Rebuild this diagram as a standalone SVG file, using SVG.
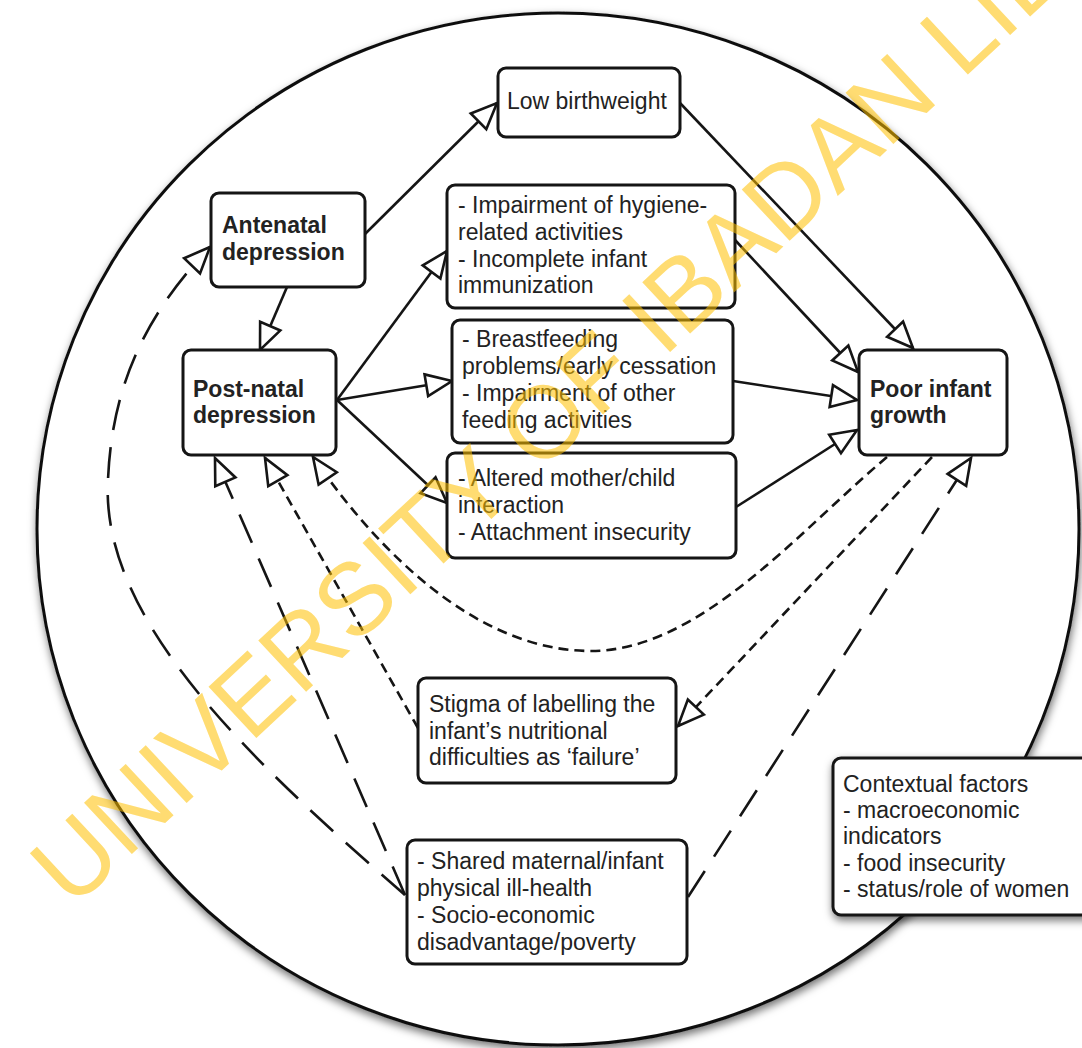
<svg xmlns="http://www.w3.org/2000/svg" width="1082" height="1048" viewBox="0 0 1082 1048">
<style>
.box{fill:#fff;stroke:#151515;stroke-width:3}
.t{font-family:"Liberation Sans",Arial,sans-serif;font-size:23px;fill:#222}
.b{font-weight:bold}
.ln{fill:none;stroke:#151515;stroke-width:2.6}
.sd{stroke-dasharray:10,6}
.ld{stroke-dasharray:31,17}
.arr{marker-end:url(#tri)}
.wm{font-family:"Liberation Sans",Arial,sans-serif;font-size:102px;fill:#FFC000;opacity:0.55}
</style>
<defs>
<marker id="tri" viewBox="-3 -3 32 28" refX="26" refY="11" markerWidth="32" markerHeight="28" markerUnits="userSpaceOnUse" orient="auto">
<path d="M0,0 L26,11 L0,22 Z" fill="#fff" stroke="#151515" stroke-width="2.6" stroke-dasharray="none"/>
</marker>
<filter id="sh" x="-10%" y="-10%" width="120%" height="120%">
<feDropShadow dx="1" dy="4" stdDeviation="4" flood-color="#000" flood-opacity="0.55"/>
</filter>
</defs>
<rect width="1082" height="1048" fill="#fff"/>
<ellipse id="outer" cx="558" cy="529" rx="521" ry="516" fill="#fff" stroke="#111" stroke-width="3" filter="url(#sh)"/>

<g id="connectors">
<path class="ln arr" d="M365,234 L497,103"/>
<path class="ln arr" d="M287,287 L260,350"/>
<path class="ln arr" d="M337,400 L447,251"/>
<path class="ln arr" d="M337,400 L452,381"/>
<path class="ln arr" d="M337,400 L447,503"/>
<path class="ln arr" d="M680,103 L913,348"/>
<path class="ln arr" d="M735,240 L858,372"/>
<path class="ln arr" d="M733,381 L857,400"/>
<path class="ln arr" d="M736,507 L857,430"/>
<path class="ln sd arr" d="M887,457 C800,530 700,651 591,651 C470,651 370,540 313,457"/>
<path class="ln sd arr" d="M418,728 L265,458"/>
<path class="ln sd arr" d="M932,457 L678,726"/>
<path class="ln ld arr" d="M405,895 L215,458"/>
<path class="ln ld arr" d="M405,895 C250,760 100,620 108,480 C112,380 150,310 210,247"/>
<path class="ln ld arr" d="M688,897 L971,458"/>
</g>

<g id="lowbirthweight">
<rect class="box" x="498" y="68" width="182" height="69" rx="8"/>
<text class="t" x="507" y="109">Low birthweight</text>
</g>
<g id="antenatal">
<rect class="box" x="211" y="193" width="154" height="94" rx="8"/>
<text class="t b" x="222" y="233">Antenatal</text>
<text class="t b" x="222" y="260">depression</text>
</g>
<g id="postnatal">
<rect class="box" x="183" y="350" width="153" height="105" rx="8"/>
<text class="t b" x="193" y="397">Post-natal</text>
<text class="t b" x="193" y="423">depression</text>
</g>
<g id="hygiene">
<rect class="box" x="447" y="185" width="288" height="123" rx="8"/>
<text class="t" x="458" y="213">- Impairment of hygiene-</text>
<text class="t" x="458" y="240">related activities</text>
<text class="t" x="458" y="267">- Incomplete infant</text>
<text class="t" x="458" y="293">immunization</text>
</g>
<g id="feeding">
<rect class="box" x="452" y="320" width="281" height="123" rx="8"/>
<text class="t" x="462" y="347">- Breastfeeding</text>
<text class="t" x="462" y="374">problems/early cessation</text>
<text class="t" x="462" y="401">- Impairment of other</text>
<text class="t" x="462" y="428">feeding activities</text>
</g>
<g id="interaction">
<rect class="box" x="447" y="453" width="289" height="105" rx="8"/>
<text class="t" x="458" y="486">- Altered mother/child</text>
<text class="t" x="458" y="513">interaction</text>
<text class="t" x="458" y="540">- Attachment insecurity</text>
</g>
<g id="poorgrowth">
<rect class="box" x="859" y="350" width="148" height="105" rx="8"/>
<text class="t b" x="870" y="397">Poor infant</text>
<text class="t b" x="870" y="423">growth</text>
</g>
<g id="stigma">
<rect class="box" x="418" y="678" width="258" height="105" rx="8"/>
<text class="t" x="429" y="712">Stigma of labelling the</text>
<text class="t" x="429" y="739">infant’s nutritional</text>
<text class="t" x="429" y="765">difficulties as ‘failure’</text>
</g>
<g id="shared">
<rect class="box" x="407" y="840" width="280" height="124" rx="8"/>
<text class="t" x="417" y="869">- Shared maternal/infant</text>
<text class="t" x="417" y="896">physical ill-health</text>
<text class="t" x="417" y="923">- Socio-economic</text>
<text class="t" x="417" y="950">disadvantage/poverty</text>
</g>
<g id="contextual">
<rect class="box" x="833" y="758" width="270" height="157" rx="8" filter="url(#sh)"/>
<text class="t" x="843" y="792">Contextual factors</text>
<text class="t" x="843" y="818">- macroeconomic</text>
<text class="t" x="843" y="844">indicators</text>
<text class="t" x="843" y="871">- food insecurity</text>
<text class="t" x="843" y="897">- status/role of women</text>
</g>

<text class="wm" x="72" y="910" transform="rotate(-43 72 910)">UNIVERSITY OF IBADAN LIB</text>
</svg>
